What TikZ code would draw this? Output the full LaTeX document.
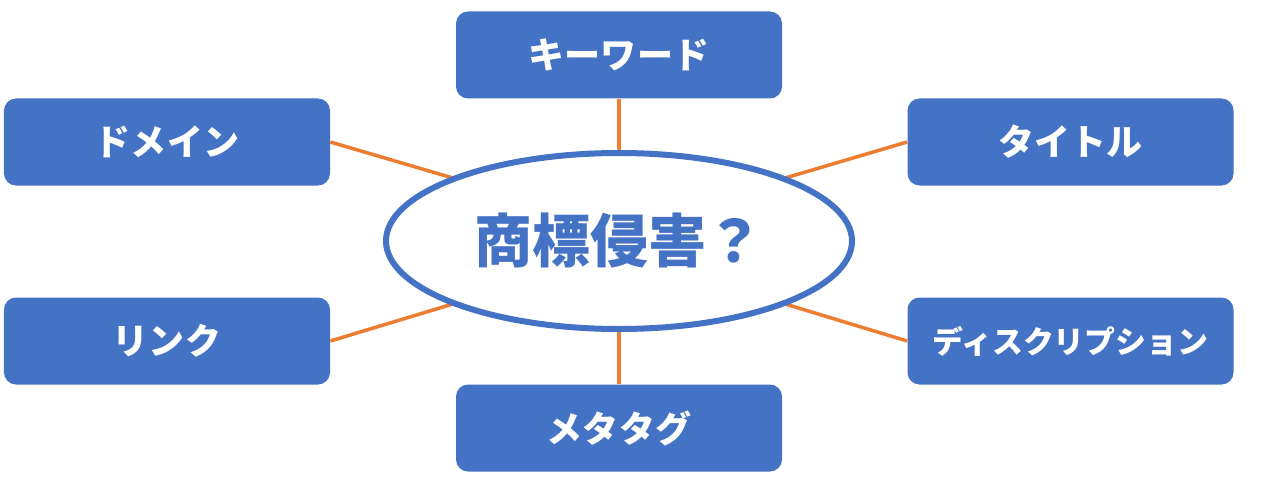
\documentclass[tikz,border=0pt]{standalone}
\usepackage{fontspec}
\setmainfont{Noto Sans CJK JP}
\usetikzlibrary{shapes.geometric}
\definecolor{boxblue}{HTML}{4472C4}
\definecolor{lineorange}{HTML}{ED7D31}
\tikzset{
  topic/.style={fill=boxblue, rounded corners=0.24cm, minimum width=6.52cm, minimum height=1.74cm,
    text=white, font=\bfseries\fontsize{20.5}{24}\selectfont},
  link/.style={draw=lineorange, line width=2pt}
}

\begin{document}
\begin{tikzpicture}
\useasboundingbox (0,0) rectangle (25.28,9.72);
\node[topic] (v1) at (12.38,8.62) {キーワード};
\node[topic] (v2) at (3.34,6.88) {ドメイン};
\node[topic] (v3) at (21.41,6.88) {タイトル};
\node[topic] (v4) at (3.34,2.90) {リンク};
\node[topic, font=\bfseries\fontsize{17.6}{22}\selectfont] (v5) at (21.41,2.90) {ディスクリプション};
\node[topic] (v6) at (12.38,1.16) {メタタグ};

\coordinate (c1) at (12.38,6.66);
\coordinate (c2) at (9.09,6.15);
\coordinate (c3) at (15.67,6.15);
\coordinate (c4) at (9.09,3.65);
\coordinate (c5) at (15.67,3.65);
\coordinate (c6) at (12.38,3.14);

\foreach \from/\to in {v1.south/c1,v2.east/c2,v3.west/c3,v4.east/c4,v5.west/c5,v6.north/c6}
\draw[link] (\from) -- (\to);

\node[ellipse, draw=boxblue, fill=white, line width=0.12cm, inner sep=0pt,
  minimum width=9.32cm, minimum height=3.52cm, text=boxblue,
  font=\bfseries\fontsize{33}{39}\selectfont] (v0) at (12.38,4.90) {商標侵害？};
\end{tikzpicture}
\end{document}
